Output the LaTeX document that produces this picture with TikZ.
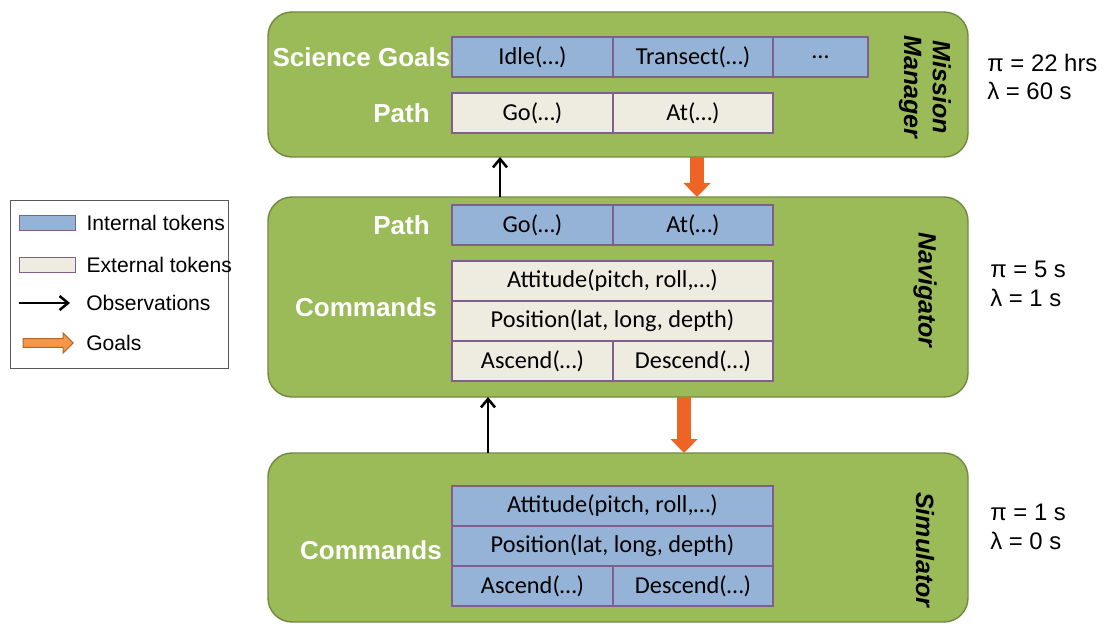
\documentclass[tikz,border=0pt]{standalone}
\usepackage{fontspec}
\setmainfont{Liberation Sans}
\newfontfamily\tokfont{Carlito}
\usetikzlibrary{positioning,arrows.meta,shapes.arrows}
\definecolor{layergreen}{HTML}{9BBB59}
\definecolor{layeredge}{HTML}{71893F}
\definecolor{intblue}{HTML}{95B3D7}
\definecolor{extbeige}{HTML}{EEECE1}
\definecolor{tokedge}{HTML}{7F5F8C}
\definecolor{goalorange}{HTML}{EE6424}
\definecolor{legorange}{HTML}{F79646}
\definecolor{legedge}{HTML}{B3652B}

\begin{document}
\begin{tikzpicture}
    \tikzset{
      layer/.style={draw=layeredge,line width=1pt,fill=layergreen,rounded corners=0.6cm,
                    anchor=north west,minimum width=17.5cm,inner sep=0pt,outer sep=0pt},
      tok/.style={draw=tokedge,line width=0.8pt,anchor=north west,minimum height=1cm,
                  inner sep=0pt,outer sep=0pt,font=\tokfont\fontsize{17.3}{20}\selectfont},
      int/.style={tok,fill=intblue},
      ext/.style={tok,fill=extbeige},
      lbl/.style={text=white,font=\fontsize{18.5}{22}\selectfont\bfseries,inner sep=0pt,anchor=east},
      layername/.style={rotate=-90,align=center,inner sep=0pt,font=\fontsize{17.8}{20.5}\selectfont\bfseries\itshape},
      rate/.style={anchor=west,align=left,inner sep=0pt,font=\fontsize{17}{20.5}\selectfont},
      obs/.style={-{Straight Barb[length=6pt,width=10pt,line width=1.8pt]},line width=1.8pt},
      goal/.style={-{Triangle[length=0.35cm,width=0.66cm]},line width=0.33cm,draw=goalorange},
      sw/.style={draw=tokedge,line width=1pt,minimum width=1.4cm,minimum height=0.38cm,inner sep=0pt},
      leg/.style={anchor=west,font=\fontsize{15}{18}\selectfont,inner sep=0pt}}
    \useasboundingbox (0,0) rectangle (27.6,-15.65);
    % layers
    \node[layer,minimum height=3.625cm] (mm) at (6.7,-0.3) {};
    \node[layer,minimum height=5cm] (nav) at (6.7,-4.925) {};
    \node[layer,minimum height=4.225cm] (sim) at (6.7,-11.325) {};
    \node[layername] at (23.125,-2.175) {Mission\\Manager};
    \node[layername] at (23.125,-7.25) {Navigator};
    \node[layername] at (23.125,-13.75) {Simulator};
    % mission manager tokens
    \node[int,minimum width=4.025cm] (idle) at (11.3,-0.925) {Idle(…)};
    \node[int,minimum width=4cm,right=0pt of idle] (transect) {Transect(…)};
    \node[int,minimum width=2.375cm,right=0pt of transect] (more) {…};
    \node[ext,minimum width=4.025cm] (mmgo) at (11.3,-2.325) {Go(…)};
    \node[ext,minimum width=4cm,right=0pt of mmgo] (mmat) {At(…)};
    \node[lbl,left=1pt of idle] {Science Goals};
    \node[lbl,left=0.55cm of mmgo] {Path};
    % navigator tokens
    \node[int,minimum width=4.025cm] (navgo) at (11.3,-5.125) {Go(…)};
    \node[int,minimum width=4cm,right=0pt of navgo] (navat) {At(…)};
    \node[ext,minimum width=8.025cm] (navatt) at (11.3,-6.525) {Attitude(pitch, roll,…)};
    \node[ext,minimum width=8.025cm,below=0pt of navatt] (navpos) {Position(lat, long, depth)};
    \node[ext,minimum width=4.025cm,below=0pt of navpos.south west,anchor=north west] (navasc) {Ascend(…)};
    \node[ext,minimum width=4cm,right=0pt of navasc] (navdesc) {Descend(…)};
    \node[lbl,left=0.55cm of navgo] {Path};
    \node[lbl] at (10.925,-7.675) {Commands};
    % simulator tokens
    \node[int,minimum width=8.025cm] (simatt) at (11.3,-12.15) {Attitude(pitch, roll,…)};
    \node[int,minimum width=8.025cm,below=0pt of simatt] (simpos) {Position(lat, long, depth)};
    \node[int,minimum width=4.025cm,below=0pt of simpos.south west,anchor=north west] (simasc) {Ascend(…)};
    \node[int,minimum width=4cm,right=0pt of simasc] (simdesc) {Descend(…)};
    \node[lbl] at (11.05,-13.75) {Commands};
    % observations up, goals down
    \foreach \a/\b/\x in {nav/mm/-2.95,sim/nav/-3.25}
      \draw[obs] ([xshift=\x cm]\a.north) -- ([xshift=\x cm]\b.south);
    \foreach \a/\b/\x in {mm/nav/1.975,nav/sim/1.65}
      \draw[goal] ([xshift=\x cm]\a.south) -- ([xshift=\x cm]\b.north);
    % periods and latencies
    \node[rate] at (24.675,-1.925) {π = 22 hrs\\λ = 60 s};
    \node[rate] at (24.75,-7.1) {π = 5 s\\λ = 1 s};
    \node[rate] at (24.75,-13.18) {π = 1 s\\λ = 0 s};
    % legend
    \node[draw=black!65,line width=0.8pt,anchor=north west,minimum width=5.45cm,minimum height=4.2cm,inner sep=0pt] (legend) at (0.25,-5) {};
    \node[sw,fill=intblue] (swint) at (1.19,-5.575) {};
    \node[leg,right=0.25cm of swint] {Internal tokens};
    \node[sw,fill=extbeige] (swext) at (1.19,-6.625) {};
    \node[leg,right=0.25cm of swext] {External tokens};
    \coordinate (obsa) at (0.475,-7.575);
    \coordinate (obsb) at (1.75,-7.575);
    \draw[obs] (obsa) -- (obsb);
    \node[leg] at (2.15,-7.575) {Observations};
    \node[single arrow,draw=legedge,fill=legorange,line width=0.8pt,minimum height=1.25cm,
          minimum width=0.5cm,single arrow head extend=0.11cm,inner sep=0.07cm] (swgoal) at (1.15,-8.575) {};
    \node[leg] at (2.15,-8.575) {Goals};
\end{tikzpicture}
\end{document}
